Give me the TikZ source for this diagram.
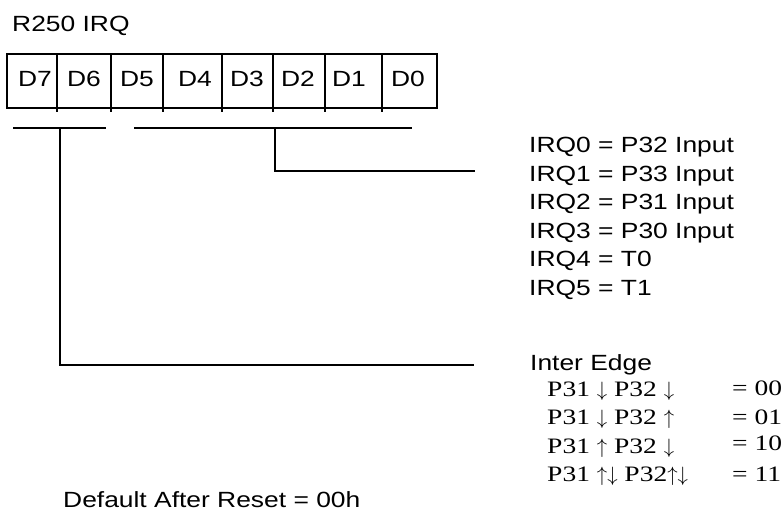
\documentclass[tikz,border=0pt]{standalone}
\usepackage{fontspec}
\setmainfont{Liberation Sans}[FakeStretch=1.2]
\newfontfamily\rowfont{Liberation Serif}[FakeStretch=1.25]
\usetikzlibrary{positioning}
\newcommand{\dn}{\ensuremath{\downarrow}}
\newcommand{\upa}{\ensuremath{\uparrow}}

\begin{document}
\begin{tikzpicture}[x=1pt,y=-1pt]
\tikzstyle{every node}=[font=\fontsize{22}{26}\selectfont, inner sep=0pt]
\tikzstyle{lbl}=[anchor=base west]
\tikzstyle{edgerow}=[anchor=base west, font=\rowfont\fontsize{22}{25}\selectfont]
\tikzstyle{cell}=[line width=1.4pt]
\tikzstyle{bracket}=[line width=2.6pt]
\useasboundingbox (0,0) rectangle (783,513);
\node [lbl] (title) at (12,32) {R250 IRQ};
% register cells
\draw [cell] (7,54) rectangle (437,108);
\foreach \x in {57,111,163,222,273,325,382}
  \draw [cell] (\x,54) -- (\x,112);
\foreach \c/\n in {35/7,84/6,137/5,195/4,247/3,298/2,349/1,408/0}
  \node [anchor=base] (d\n) at (\c,87) {D\n};
% brackets
\coordinate (hiL) at (13,128);
\coordinate (hiR) at (106,128);
\coordinate (hiT) at (60,128);
\coordinate (hiE) at (474,365);
\coordinate (loL) at (134,128);
\coordinate (loR) at (412,128);
\coordinate (loT) at (275,128);
\coordinate (loE) at (475,171);
\draw [bracket] (hiL) -- (hiR);
\draw [bracket] (hiT) |- (hiE);
\draw [bracket] (loL) -- (loR);
\draw [bracket] (loT) |- (loE);
% sources
\foreach \i/\t in {0/P32 Input,1/P33 Input,2/P31 Input,3/P30 Input,4/T0,5/T1}
  \node [lbl] (irq\i) at (529,{153+28.4*\i}) {IRQ\i{} = \t};
\node [lbl] (edge) at (530,370) {Inter Edge};
\node [edgerow] (e0) at (547,396) {P31 \dn{} P32 \dn};
\node [edgerow] (e1) at (547,424) {P31 \dn{} P32 \upa};
\node [edgerow] (e2) at (547,453) {P31 \upa{} P32 \dn};
\node [edgerow] (e3) at (547,481) {P31 \upa\dn{} P32\upa\dn};
\node [edgerow] (v0) at (732,395) {= 00};
\node [edgerow] (v1) at (732,424) {= 01};
\node [edgerow] (v2) at (732,450) {= 10};
\node [edgerow] (v3) at (732,481) {= 11};
\node [lbl] (reset) at (63,507) {Default After Reset = 00h};
\end{tikzpicture}
\end{document}
